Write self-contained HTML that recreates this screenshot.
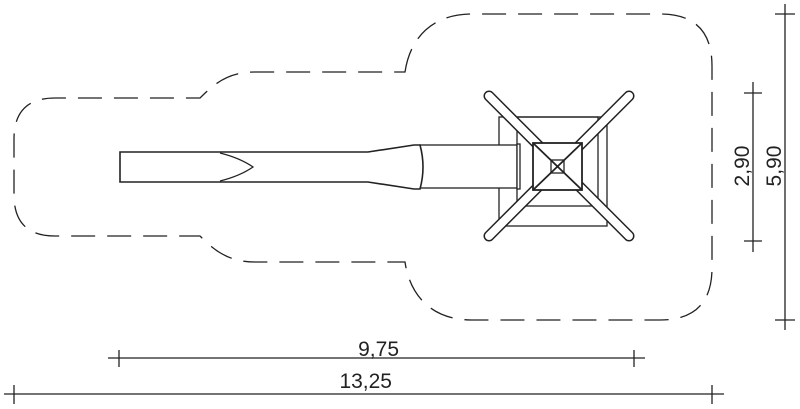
<!DOCTYPE html>
<html><head><style>body{margin:0;background:#fff}svg{display:block}</style></head><body>
<svg width="800" height="409" viewBox="0 0 800 409" xmlns="http://www.w3.org/2000/svg" font-family="Liberation Sans, sans-serif">
<g fill="none" stroke="#222" stroke-width="1.3">
<path d="M405,72 C410,38 432,14 472,14 L660,14 Q712,14 712,66 L712,268 Q712,320 660,320 L472,320 C432,320 410,296 405,262 L255,262 C228,262 214,250 200,236 L55,236 Q14,236 14,195 L14,139 Q14,98 55,98 L200,98 C214,84 228,72 255,72 Z" stroke-dasharray="24,12"/>
<rect x="499" y="117" width="108" height="109"/>
<rect x="517" y="117" width="81" height="89"/>
<rect x="420" y="145" width="97" height="43" fill="#fff"/>
<rect x="517" y="144" width="3" height="45" fill="#fff"/>
<path d="M120,152 L368,152 L414,145 L420,145 Q426,167 420,189 L414,189 L368,182 L120,182 Z" fill="#fff" stroke-width="1.6"/>
<path d="M220,153 Q240,158 253,167 Q240,176 220,181"/>
<g stroke-linecap="round">
<line x1="489" y1="96" x2="629" y2="236" stroke="#222" stroke-width="11"/>
<line x1="629" y1="96" x2="489" y2="236" stroke="#222" stroke-width="11"/>
<line x1="489" y1="96" x2="629" y2="236" stroke="#fff" stroke-width="8"/>
<line x1="629" y1="96" x2="489" y2="236" stroke="#fff" stroke-width="8"/>
</g>
<rect x="533" y="143" width="49" height="47" fill="#fff" stroke-width="1.8"/>
<line x1="533" y1="143" x2="582" y2="190" stroke-width="1.8"/>
<line x1="582" y1="143" x2="533" y2="190" stroke-width="1.8"/>
<rect x="551" y="160" width="13" height="13"/>
<line x1="108" y1="358" x2="645" y2="358"/>
<line x1="119" y1="350" x2="119" y2="367"/><line x1="634" y1="350" x2="634" y2="367"/>
<line x1="4" y1="394" x2="724" y2="394"/>
<line x1="14" y1="385" x2="14" y2="404"/><line x1="712" y1="385" x2="712" y2="404"/>
<line x1="753" y1="82" x2="753" y2="252"/>
<line x1="744" y1="93" x2="762" y2="93"/><line x1="744" y1="241" x2="762" y2="241"/>
<line x1="785" y1="4" x2="785" y2="330"/>
<line x1="775" y1="14" x2="795" y2="14"/><line x1="775" y1="320" x2="795" y2="320"/>
</g>
<g fill="#222" font-size="21">
<text x="399" y="356" text-anchor="end">9,75</text>
<text x="392" y="388" text-anchor="end">13,25</text>
<text transform="translate(749,166) rotate(-90)" text-anchor="middle">2,90</text>
<text transform="translate(781,166) rotate(-90)" text-anchor="middle">5,90</text>
</g>
</svg>
</body></html>
